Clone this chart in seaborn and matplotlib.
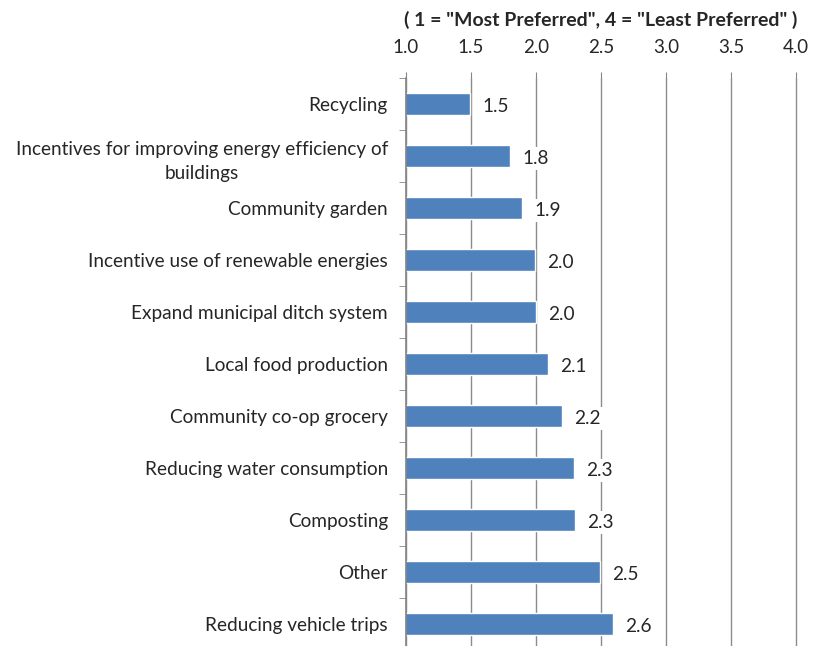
import matplotlib
matplotlib.use("Agg")
import matplotlib.pyplot as plt
import seaborn as sns
import pandas as pd
from matplotlib.ticker import FixedLocator

categorias = [
    "Recycling",
    "Incentives for improving energy efficiency of\nbuildings",
    "Community garden",
    "Incentive use of renewable energies",
    "Expand municipal ditch system",
    "Local food production",
    "Community co-op grocery",
    "Reducing water consumption",
    "Composting",
    "Other",
    "Reducing vehicle trips",
]
medias = [1.49, 1.80, 1.89, 1.99, 2.00, 2.09, 2.20, 2.29, 2.30, 2.49, 2.59]
rotulos = ["1.5", "1.8", "1.9", "2.0", "2.0", "2.1", "2.2", "2.3", "2.3", "2.5", "2.6"]
xticks = [1.0, 1.5, 2.0, 2.5, 3.0, 3.5, 4.0]

df = pd.DataFrame({"categoria": categorias, "media": medias})

sns.set_style("white")
plt.rcParams["font.family"] = ["Lato", "DejaVu Sans"]

fig = plt.figure(figsize=(8.13, 6.46), dpi=100)
ax = fig.add_axes([406 / 813, -4 / 646, 390 / 813, 572 / 646])

sns.barplot(data=df, x="media", y="categoria", orient="h", color="#4F81BD",
            saturation=1, width=0.42, ax=ax)

ax.set_xlim(1.0, 4.0)
ax.set_ylim(len(categorias) - 0.5, -0.5)
ax.xaxis.tick_top()
ax.set_xticks(xticks)
ax.set_xticklabels([f"{t:.1f}" for t in xticks], fontsize=13.5)
ax.tick_params(axis="x", length=4, color="#868686", pad=12)
ax.grid(axis="x", color="#8C8C8C", linewidth=1)
ax.set_axisbelow(True)
for linha in ax.get_xgridlines():
    linha.set_clip_on(False)

ax.set_yticks(range(len(categorias)))
ax.set_yticklabels(categorias, fontsize=13.7, multialignment="center", linespacing=1.5)
ax.tick_params(axis="y", which="major", length=0, pad=13)
ax.yaxis.set_minor_locator(FixedLocator([i + 0.5 for i in range(-1, len(categorias))]))
ax.tick_params(axis="y", which="minor", length=5, color="#868686", left=True)

for s in ["top", "right", "bottom"]:
    ax.spines[s].set_visible(False)
ax.spines["left"].set_color("#868686")
ax.spines["left"].set_linewidth(1.2)

ax.set_xlabel('( 1 = "Most Preferred", 4 = "Least Preferred" )', fontsize=14,
              fontweight="bold", labelpad=9)
ax.xaxis.set_label_position("top")
ax.set_ylabel("")

for i, (v, r) in enumerate(zip(medias, rotulos)):
    ax.annotate(r, xy=(v, i), xytext=(9, -2), textcoords="offset points",
                ha="left", va="center", fontsize=13.7,
                bbox=dict(boxstyle="square,pad=0.15", fc="white", ec="none"))

fig.savefig("out.png", dpi=100)
plt.close(fig)
